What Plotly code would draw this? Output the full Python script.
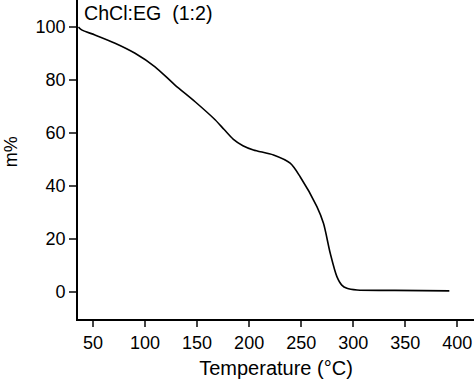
import plotly.graph_objects as go

temperature = [36, 39.1, 51.9, 71.2, 90.4, 109.6, 128.8, 148.1, 167.3, 176.0, 184.9, 194.0,
               204.1, 223.4, 239.4, 249.0, 265.1, 271.4, 277.9, 284.3, 289.0, 293.9, 303.6,
               340, 392.3]
mass_pct = [100.0, 98.9, 97.0, 93.9, 90.1, 85.0, 78.1, 71.8, 65.0, 61.3, 57.6, 55.2,
            53.6, 51.7, 48.6, 43.5, 32.2, 25.9, 14.6, 5.8, 2.6, 1.4, 0.75,
            0.6, 0.4]
x_ticks = [50, 100, 150, 200, 250, 300, 350, 400]
y_ticks = [0, 20, 40, 60, 80, 100]
label = "ChCl:EG  (1:2)"
y_title = "m%"

FONT = "Liberation Sans, Arial, sans-serif"

fig = go.Figure(go.Scatter(x=temperature, y=mass_pct, mode="lines",
                           line=dict(color="black", width=1.6, shape="spline", smoothing=0.8),
                           hoverinfo="skip"))

fig.add_annotation(text=label.replace("  ", "&nbsp;&nbsp;"), xref="paper", yref="paper",
                   x=0.01, y=1.0, xanchor="left", yanchor="top", showarrow=False,
                   font=dict(family=FONT, size=19.6, color="black"))

fig.add_annotation(text=y_title, xref="paper", yref="paper", textangle=-90,
                   x=-0.169, y=0.523, xanchor="center", yanchor="middle", showarrow=False,
                   font=dict(family=FONT, size=18, color="black"))

fig.update_layout(
    width=474, height=382,
    margin=dict(l=78, r=0, t=0, b=63),
    paper_bgcolor="white", plot_bgcolor="white",
    showlegend=False,
    font=dict(family=FONT, size=18, color="black"),
    xaxis=dict(range=[35.6, 416], tickvals=x_ticks, ticks="outside", ticklen=6, tickwidth=1.5,
               showline=True, linecolor="black", linewidth=1.8, showgrid=False, zeroline=False,
               automargin=False,
               title=dict(text="Temperature (°C)", standoff=9, font=dict(size=20)),
               tickfont=dict(size=18)),
    yaxis=dict(range=[-10.2, 110.2], tickvals=y_ticks, ticks="outside", ticklen=7, tickwidth=1.5,
               showline=True, linecolor="black", linewidth=1.8, showgrid=False, zeroline=False,
               automargin=False,
               tickfont=dict(size=18)),
)

fig.write_html("out.html", config={"displayModeBar": False},
               post_script="document.body.style.margin='0';document.body.style.padding='0';")
